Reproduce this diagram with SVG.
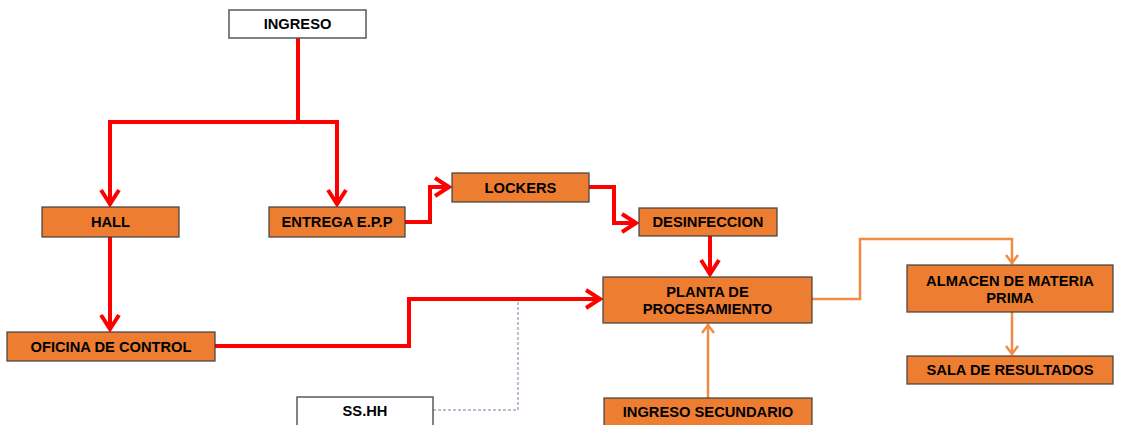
<svg xmlns="http://www.w3.org/2000/svg" width="1122" height="425" viewBox="0 0 1122 425">
  <style>
    .box { fill: #ED7D31; stroke: #3F3F3F; stroke-width: 1.2; }
    .wbox { fill: #FFFFFF; stroke: #595959; stroke-width: 1.5; }
    .lbl { font-family: "Liberation Sans", Arial, sans-serif; font-weight: bold; font-size: 14.7px; fill: #000; text-anchor: middle; dominant-baseline: central; }
    .red { fill: none; stroke: #FF0000; stroke-width: 4; stroke-linejoin: miter; }
    .org { fill: none; stroke: #F28B43; stroke-width: 2.5; }
    .dash { fill: none; stroke: #6F82A8; stroke-width: 1; stroke-dasharray: 3 2; }
  </style>
  <defs>
    <marker id="arrRed" markerUnits="userSpaceOnUse" markerWidth="24" markerHeight="24" viewBox="-20 -12 24 24" refX="0" refY="0" orient="auto">
      <path d="M-15,-9 L-1,0 L-15,9" fill="none" stroke="#FF0000" stroke-width="4" stroke-linejoin="miter"/>
    </marker>
    <marker id="arrOrg" markerUnits="userSpaceOnUse" markerWidth="20" markerHeight="20" viewBox="-14 -10 20 20" refX="0" refY="0" orient="auto">
      <path d="M-9,-6 L-1,0 L-9,6" fill="none" stroke="#F28B43" stroke-width="2.5"/>
    </marker>
  </defs>

  <!-- connectors -->
  <g id="connectors">
    <path class="dash" d="M433,410 H518 V300 H603"/>
    <path class="red" d="M298,38 V122 H110 V205" marker-end="url(#arrRed)"/>
    <path class="red" d="M298,122 H337 V205" marker-end="url(#arrRed)"/>
    <path class="red" d="M405,222 H430 V187 H450" marker-end="url(#arrRed)"/>
    <path class="red" d="M589,187 H614 V223 H637" marker-end="url(#arrRed)"/>
    <path class="red" d="M710,236 V275" marker-end="url(#arrRed)"/>
    <path class="red" d="M110,237 V330" marker-end="url(#arrRed)"/>
    <path class="red" d="M215,346 H409 V299 H601" marker-end="url(#arrRed)"/>
    <path class="org" d="M812,299 H860 V239 H1012 V264" marker-end="url(#arrOrg)"/>
    <path class="org" d="M1012,312 V355" marker-end="url(#arrOrg)"/>
    <path class="org" d="M708,398 V324" marker-end="url(#arrOrg)"/>
  </g>

  <g id="ingreso">
    <rect class="wbox" x="229" y="10" width="137" height="28"/>
    <text class="lbl" x="297.5" y="24">INGRESO</text>
  </g>
  <g id="hall">
    <rect class="box" x="42" y="207" width="137" height="30"/>
    <text class="lbl" x="110.5" y="222">HALL</text>
  </g>
  <g id="entrega-epp">
    <rect class="box" x="269" y="207" width="136" height="30"/>
    <text class="lbl" x="337" y="222">ENTREGA E.P.P</text>
  </g>
  <g id="lockers">
    <rect class="box" x="452" y="173" width="137" height="29"/>
    <text class="lbl" x="520.5" y="187.5">LOCKERS</text>
  </g>
  <g id="desinfeccion">
    <rect class="box" x="639" y="208" width="138" height="28"/>
    <text class="lbl" x="708" y="222">DESINFECCION</text>
  </g>
  <g id="planta">
    <rect class="box" x="603" y="277" width="209" height="46"/>
    <text class="lbl" x="707.5" y="292">PLANTA DE</text>
    <text class="lbl" x="707.5" y="309">PROCESAMIENTO</text>
  </g>
  <g id="almacen">
    <rect class="box" x="907" y="265" width="206" height="47"/>
    <text class="lbl" x="1010" y="281">ALMACEN DE MATERIA</text>
    <text class="lbl" x="1010" y="298">PRIMA</text>
  </g>
  <g id="sala-resultados">
    <rect class="box" x="907" y="356" width="206" height="28"/>
    <text class="lbl" x="1010" y="370">SALA DE RESULTADOS</text>
  </g>
  <g id="oficina-control">
    <rect class="box" x="7" y="332" width="208" height="29"/>
    <text class="lbl" x="111" y="346.5">OFICINA DE CONTROL</text>
  </g>
  <g id="sshh">
    <rect class="wbox" x="297" y="397" width="136" height="30"/>
    <text class="lbl" x="365" y="411">SS.HH</text>
  </g>
  <g id="ingreso-secundario">
    <rect class="box" x="604" y="398" width="208" height="30"/>
    <text class="lbl" x="708" y="412">INGRESO SECUNDARIO</text>
  </g>
</svg>
